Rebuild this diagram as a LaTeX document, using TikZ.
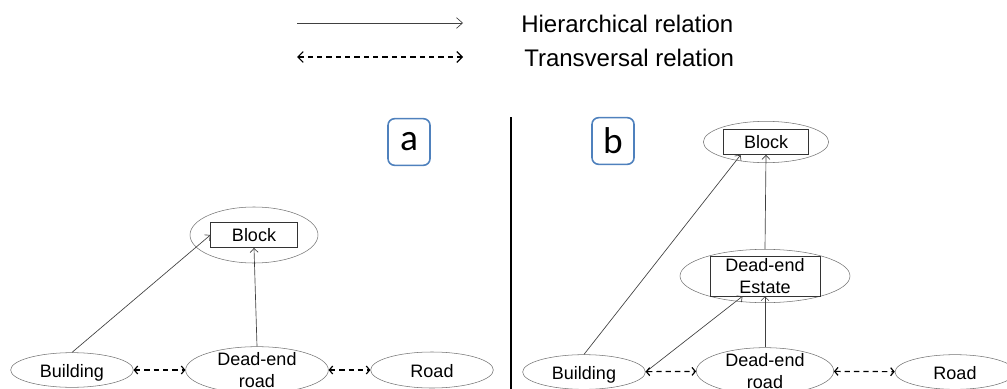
\documentclass[tikz,border=0pt]{standalone}
\usepackage{fontspec}
\setmainfont{Liberation Sans}
\newfontfamily\panelfont{Carlito}
\usetikzlibrary{arrows.meta, shapes.geometric}
\definecolor{panelblue}{RGB}{79,129,189}

\begin{document}
\begin{tikzpicture}[x=0.75pt, y=-0.75pt,
      ent/.style 2 args={draw=black!55, ellipse, inner sep=0pt, minimum width=#1, minimum height=#2},
      entbox/.style 2 args={draw=black!80, inner sep=0pt, minimum width=#1, minimum height=#2, align=center},
      panel/.style={draw=panelblue, line width=1.2pt, rounded corners=5pt, minimum width=31.5pt, minimum height=35pt, font=\panelfont\fontsize{28}{30}\selectfont},
      hier/.style={draw=black!75, line width=0.5pt, -{Straight Barb[length=3pt, width=6pt]}},
      trans/.style={line width=0.9pt, dash pattern=on 4pt off 3pt, {Straight Barb[length=2.5pt, width=6pt]}-{Straight Barb[length=2.5pt, width=6pt]}},
      legtxt/.style={anchor=west, inner sep=0pt, font=\fontsize{18}{20}\selectfont},
      font=\fontsize{13.5}{16.5}\selectfont
    ]
    \useasboundingbox (0,0) rectangle (1007,389);

    % legend
    \coordinate (hierL) at (297,23);
    \coordinate (hierR) at (463,23);
    \coordinate (transL) at (297,57);
    \coordinate (transR) at (463,57);
    \draw[hier, -{Straight Barb[length=4.5pt, width=8pt]}] (hierL) -- (hierR);
    \draw[trans, {Straight Barb[length=4pt, width=8pt]}-{Straight Barb[length=4pt, width=8pt]}] (transL) -- (transR);
    \node[legtxt] (hiertxt) at (521,23.5) {Hierarchical relation};
    \node[legtxt] (transtxt) at (524,58) {Transversal relation};

    % separator
    \coordinate (sepT) at (511,117);
    \coordinate (sepB) at (511,389);
    \draw[line width=1.8pt] (sepT) -- (sepB);

    % panel a
    \node[panel] (pa) at (409,142) {a};
    \node[ent={96pt}{42pt}] (blockA) at (254,235) {};
    \node[entbox={65pt}{19pt}] (blockAbox) at (blockA) {Block};
    \node[ent={92pt}{26pt}, label={[yshift=-2pt]center:Building}] (buildA) at (72,370) {};
    \node[ent={107pt}{35pt}, label={[align=center]center:{Dead-end\\road}}] (deadA) at (257,370) {};
    \node[ent={92pt}{27pt}, label={[yshift=-1pt]center:Road}] (roadA) at (432,370) {};

    \draw[hier] (buildA.north) -- (blockAbox.west);
    \draw[hier] (deadA.north) -- (blockAbox.south);
    \draw[trans] (buildA) -- (deadA);
    \draw[trans] (deadA) -- (roadA);

    % panel b
    \node[panel] (pb) at (613,141) {b};
    \node[ent={94pt}{31pt}] (blockB) at (766,142) {};
    \node[entbox={64pt}{19pt}] (blockBbox) at (blockB) {Block};
    \node[ent={127.5pt}{40pt}] (estB) at (765,276) {};
    \node[entbox={82.5pt}{30pt}] (estBbox) at (estB) {Dead-end\\Estate};
    \node[ent={92pt}{26pt}, label={[yshift=-2pt]center:Building}] (buildB) at (584,372) {};
    \node[ent={103pt}{35pt}, label={[align=center]center:{Dead-end\\road}}] (deadB) at (765,371) {};
    \node[ent={90pt}{26pt}, label={[yshift=-1pt]center:Road}] (roadB) at (955,372) {};

    \draw[hier] (buildB.north) -- (blockBbox.-153);
    \draw[hier] (buildB.east) -- (estBbox.-138);
    \draw[hier] (estB.north) -- (blockBbox.south);
    \draw[hier] (deadB.north) -- (estBbox.south);
    \draw[trans] (buildB) -- (deadB);
    \draw[trans] (deadB) -- (roadB);
  \end{tikzpicture}
\end{document}
